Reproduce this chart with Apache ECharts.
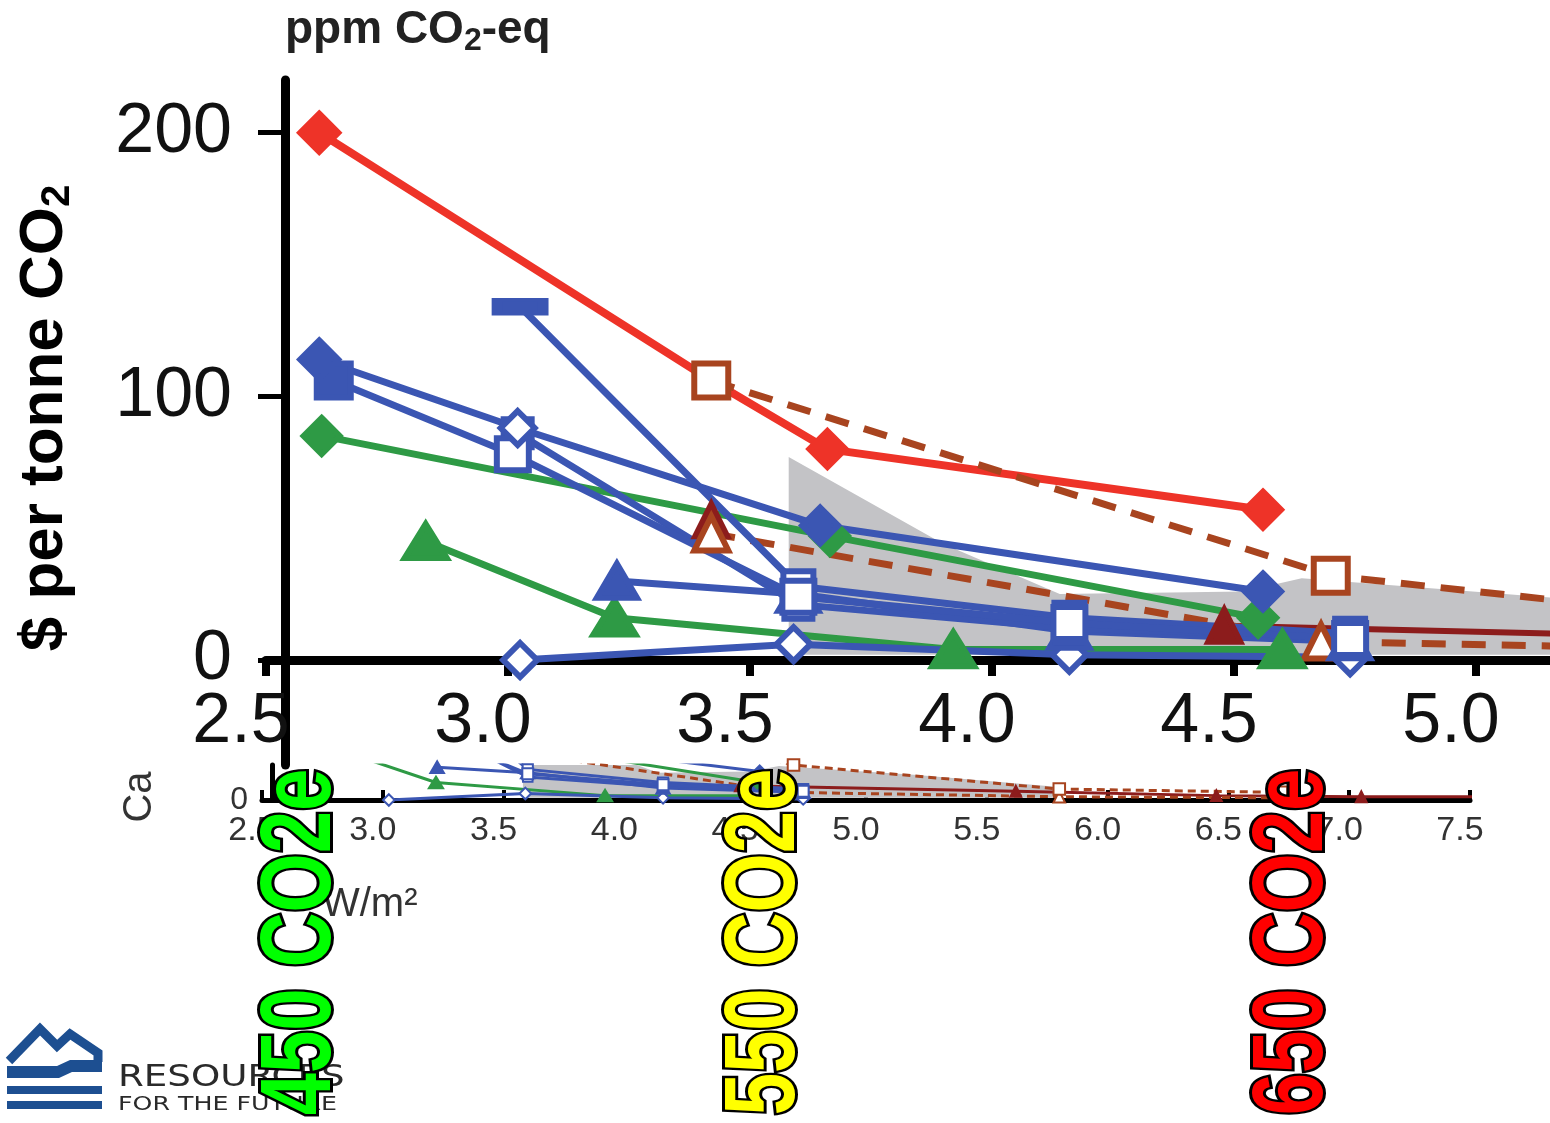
<!DOCTYPE html>
<html><head><meta charset="utf-8">
<script src="https://cdn.jsdelivr.net/npm/echarts@6/dist/echarts.min.js"></script>
<style>html,body{margin:0;padding:0;background:#fff}#c{width:1550px;height:1123px}</style>
</head><body><div id="c"></div>
<script>
// ---------- data ----------
const xTickValues = [2.5, 3.0, 3.5, 4.0, 4.5, 5.0];
const yTickValues = [0, 100, 200];
const lowerYTickValues = [0];

const redLine              = [[2.61,200],[3.42,106],[3.66,80],[4.56,57]];
const brownSquaresDashed   = [[3.42,106],[4.70,32],[5.80,10],[6.72,7]];
const brownTrianglesDashed = [[3.42,48],[4.68,7],[5.80,3],[6.72,2]];
const darkRedEarly         = [[3.42,53]];
const darkRedTriangles     = [[4.48,13],[5.62,8],[6.45,4],[7.05,3],[7.55,3]];
const blueDiamonds         = [[2.61,114],[3.02,88],[3.645,51],[4.56,26]];
const blueSquares          = [[2.64,106],[3.01,78],[3.60,24],[4.16,14],[4.74,8]];
const blueBars             = [[3.025,134],[3.60,28],[4.16,16],[4.74,10]];
const blueTriangles        = [[3.225,30],[3.60,25],[4.16,11],[4.74,7]];
const blueCross            = [[3.02,86],[3.60,21],[4.16,12],[4.74,9]];
const blueOpenDiamonds     = [[3.025,0],[3.59,6],[4.16,2],[4.74,1]];
const greenDiamonds        = [[2.615,85],[3.665,47],[4.55,16]];
const greenTriangles       = [[2.83,45],[3.22,16],[3.92,4],[4.6,4]];
const bandX    = [3.58, 3.90, 4.14, 4.52, 4.64, 5.20, 5.80];
const bandLow  = [2, 2, 2, 2, 2, 2, 2];
const bandHigh = [77, 44, 25, 26, 31, 23, 12];

const overlayLabels = ['450 CO2e', '550 CO2e', '650 CO2e'];

// ---------- styles ----------
const C = {red:'#ee3328', blue:'#3b56b3', green:'#2e9a45', brown:'#a8441f', darkRed:'#8c1c1c', band:'#c3c3c6'};
const FONT = '"Liberation Sans", Arial, sans-serif';

const defs = [
  {data: darkRedEarly, color: C.darkRed, symbols: ['triangle'], size: [32], open: [false], width: 6},
  {data: darkRedTriangles, color: C.darkRed, symbols: ['triangle'], size: [32], open: [false], width: 6},
  {data: brownTrianglesDashed, color: C.brown, symbols: ['triangle'], size: [34], open: [true], width: 7, dash: true},
  {data: greenTriangles, color: C.green, symbols: ['triangle'], size: [[42,34]], open: [false], width: 7},
  {data: greenDiamonds, color: C.green, symbols: ['diamond'], size: [36], open: [false], width: 7},
  {data: blueOpenDiamonds, color: C.blue, symbols: ['diamond'], size: [34], open: [true], width: 7},
  {data: blueTriangles, color: C.blue, symbols: ['triangle'], size: [[40,34]], open: [false], width: 7},
  {data: blueCross, color: C.blue, symbols: ['rect'], size: [28], open: [true], width: 7},
  {data: blueBars, color: C.blue, symbols: ['rect'], size: [[46,14],30], open: [false, true], width: 7},
  {data: blueSquares, color: C.blue, symbols: ['rect'], size: [34,32], open: [false, true], width: 7},
  {data: blueDiamonds, color: C.blue, symbols: ['diamond'], size: [38,34,36,36], open: [false, true, false, false], width: 7},
  {data: redLine, color: C.red, symbols: ['diamond','none','diamond','diamond'], size: [38,0,36,36], open: [false], width: 8},
  {data: brownSquaresDashed, color: C.brown, symbols: ['rect'], size: [34], open: [true], width: 7, dash: true}
];

function pick(arr, i) { return arr[Math.min(i, arr.length - 1)]; }
function scaleSize(s, f) { return Array.isArray(s) ? s.map(v => v * f) : s * f; }

function makeSeries(def, lower) {
  const f = lower ? 0.34 : 1;
  return {
    type: 'line',
    xAxisIndex: lower ? 1 : 0,
    yAxisIndex: lower ? 1 : 0,
    data: def.data.map((v, i) => ({value: v, itemStyle: {color: pick(def.open, i) ? '#fff' : def.color}})),
    clip: true,
    silent: true,
    animation: false,
    symbol: (v, p) => pick(def.symbols, p.dataIndex),
    symbolSize: (v, p) => scaleSize(pick(def.size, p.dataIndex), f),
    lineStyle: {color: def.color, width: lower ? 3 : def.width,
      type: def.dash ? (lower ? [8,5] : [24,16]) : 'solid', cap: 'butt'},
    itemStyle: {borderColor: def.color, borderWidth: lower ? 2 : 6}
  };
}

function bandSeries(lower) {
  return {
    type: 'custom',
    xAxisIndex: lower ? 1 : 0,
    yAxisIndex: lower ? 1 : 0,
    silent: true,
    animation: false,
    data: bandX.map((x, i) => [x, bandLow[i], bandHigh[i]]),
    encode: {x: 0, y: [1, 2]},
    renderItem: function (params, api) {
      if (params.dataIndex !== 0) return null;
      const top = bandX.map((x, i) => api.coord([x, bandHigh[i]]));
      const bot = bandX.map((x, i) => api.coord([x, bandLow[i]])).reverse();
      const cs = params.coordSys;
      return {
        type: 'polygon',
        shape: {points: top.concat(bot)},
        style: {fill: C.band},
        clipPath: {type: 'rect', shape: {x: cs.x, y: cs.y, width: cs.width, height: cs.height}}
      };
    }
  };
}

const series = [];
series.push(bandSeries(false));
defs.forEach(d => series.push(makeSeries(d, false)));
series.push(bandSeries(true));
defs.forEach(d => series.push(makeSeries(d, true)));

// ---------- graphics (titles, overlays, logo) ----------
const overlayColors = ['#00ff00', '#ffff00', '#ff0000'];
const overlayX = [302, 766, 1294];
const overlays = overlayLabels.map((t, i) => ({
  type: 'text', x: overlayX[i], y: 942, rotation: Math.PI / 2, scaleX: 0.76, z: 200,
  style: {text: t, font: 'bold 100px ' + FONT, fill: overlayColors[i], stroke: '#000', lineWidth: 6,
    align: 'center', verticalAlign: 'middle'}
}));

const logoBlue = '#1d4f91';
const graphics = [
  {type: 'text', x: 285, y: 30, z: 50,
   style: {text: 'ppm CO{s|2}-eq', font: 'bold 46px ' + FONT, fill: '#222', align: 'left', verticalAlign: 'middle',
     rich: {s: {font: 'bold 32px ' + FONT, fill: '#222', padding: [22, 0, 0, 0]}}}},
  {type: 'text', x: 45, y: 418, rotation: Math.PI / 2, z: 50,
   style: {text: '$ per tonne CO{s|2}', font: 'bold 62px ' + FONT, fill: '#000', align: 'center', verticalAlign: 'middle',
     rich: {s: {font: 'bold 40px ' + FONT, fill: '#000', padding: [26, 0, 0, 0]}}}},
  {type: 'text', x: 140, y: 797, rotation: Math.PI / 2, z: 50,
   style: {text: 'Ca', font: '40px ' + FONT, fill: '#333', align: 'center', verticalAlign: 'middle'}},
  {type: 'text', x: 322, y: 905, z: 50,
   style: {text: 'W/m²', font: '40px ' + FONT, fill: '#333', align: 'left', verticalAlign: 'middle'}},
  // logo
  {type: 'polyline', z: 50, shape: {points: [[9,1061],[40,1029],[57,1046],[70,1034],[98,1053],[98,1062]]},
   style: {stroke: logoBlue, lineWidth: 9, fill: null, lineJoin: 'miter'}},
  {type: 'polygon', z: 50, shape: {points: [[7,1066],[57,1066],[70,1060],[102,1060],[102,1072],[72,1072],[59,1078],[7,1078]]},
   style: {fill: logoBlue}},
  {type: 'rect', z: 50, shape: {x: 7, y: 1086, width: 95, height: 8}, style: {fill: logoBlue}},
  {type: 'rect', z: 50, shape: {x: 7, y: 1101, width: 95, height: 8}, style: {fill: logoBlue}},
  {type: 'text', x: 118, y: 1078, scaleX: 1.2, z: 50,
   style: {text: 'RESOURCES', font: '31px "DejaVu Sans"', fill: '#2a2a2a', align: 'left', verticalAlign: 'middle'}},
  {type: 'text', x: 118, y: 1105, scaleX: 1.33, z: 50,
   style: {text: 'FOR THE FUTURE', font: '19px "DejaVu Sans"', fill: '#2a2a2a', align: 'left', verticalAlign: 'middle'}},
  ...overlays
];

const chart = echarts.init(document.getElementById('c'), null, {renderer: 'canvas'});
chart.setOption({
  backgroundColor: '#fff',
  animation: false,
  grid: [
    {left: 266, top: 80, width: 1284, height: 580},
    {left: 262, top: 765, width: 1208, height: 35},
    {left: 266, top: 660, width: 1284, height: 105}
  ],
  xAxis: [
    {type: 'value', gridIndex: 0, min: 2.5, max: 5.153,
     axisLine: {onZero: false, lineStyle: {color: '#000', width: 9}},
     axisTick: {show: true, customValues: xTickValues, length: 16, lineStyle: {color: '#000', width: 8}},
     axisLabel: {customValues: xTickValues, fontSize: 70, fontFamily: FONT, color: '#111', margin: 28,
       padding: [0, 50, 0, 0], formatter: v => v.toFixed(1)},
     splitLine: {show: false}},
    {type: 'value', gridIndex: 1, min: 2.5, max: 7.5, interval: 0.5,
     axisLine: {onZero: false, lineStyle: {color: '#000', width: 5}},
     axisTick: {show: true, inside: true, length: 10, lineStyle: {color: '#000', width: 4}},
     axisLabel: {fontSize: 34, fontFamily: FONT, color: '#333', margin: 14, padding: [0, 20, 0, 0],
       formatter: v => v.toFixed(1)},
     splitLine: {show: false}},
    {type: 'value', gridIndex: 2, min: 2.5, max: 5.153, show: false}
  ],
  yAxis: [
    {type: 'value', gridIndex: 0, min: 0, max: 220, offset: -19,
     axisLine: {show: true, lineStyle: {color: '#000', width: 9}},
     axisTick: {show: true, customValues: yTickValues, length: 27, lineStyle: {color: '#000', width: 5}},
     axisLabel: {customValues: yTickValues, fontSize: 70, fontFamily: FONT, color: '#111', margin: 53},
     splitLine: {show: false}},
    {type: 'value', gridIndex: 1, min: 0, max: 32, offset: -10,
     axisLine: {show: true, lineStyle: {color: '#000', width: 5}},
     axisTick: {show: false},
     axisLabel: {customValues: lowerYTickValues, fontSize: 32, fontFamily: FONT, color: '#333', margin: 24},
     splitLine: {show: false}},
    {type: 'value', gridIndex: 2, min: 0, max: 1, offset: -19,
     axisLine: {show: true, lineStyle: {color: '#000', width: 9}},
     axisTick: {show: false}, axisLabel: {show: false}, splitLine: {show: false}}
  ],
  series: series,
  graphic: graphics
});
</script>
</body></html>
